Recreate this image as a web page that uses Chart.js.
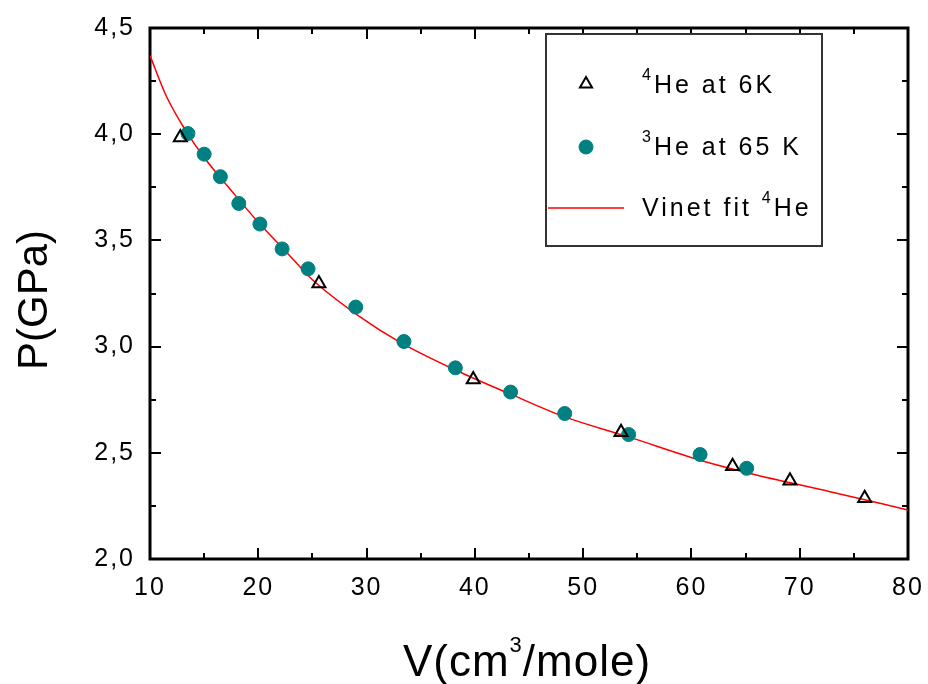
<!DOCTYPE html>
<html>
<head>
<meta charset="utf-8">
<script src="https://cdn.jsdelivr.net/npm/chart.js@4.4.1/dist/chart.umd.min.js"></script>
<style>
  html, body { margin: 0; padding: 0; background: #fff; }
  canvas { display: block; }
</style>
</head>
<body>
<canvas id="eos" width="928" height="684"></canvas>
<script>
// 4He at 6 K (open triangles)
const he4V = [12.8, 25.6, 39.85, 53.5, 63.8, 69.1, 76.0];
const he4P = [3.984, 3.297, 2.845, 2.597, 2.437, 2.368, 2.286];

// 3He at 65 K (teal dots)
const he3V = [13.5, 15.0, 16.5, 18.2, 20.15, 22.2, 24.6, 29.0, 33.45, 38.2, 43.3, 48.3, 54.2, 60.8, 65.1];
const he3P = [4.003, 3.906, 3.80, 3.674, 3.577, 3.46, 3.366, 3.186, 3.024, 2.90, 2.786, 2.685, 2.586, 2.492, 2.427];

// Vinet fit curve
const fitV = [10, 11.5, 13.2, 15, 17.5, 20, 22.5, 25, 29.4, 33.1, 38.2, 43.3, 48.3, 54.2, 60.8, 65.4, 72.8, 80];
const fitP = [4.37, 4.18, 4.025, 3.89, 3.735, 3.585, 3.45, 3.315, 3.14, 3.02, 2.89, 2.776, 2.669, 2.575, 2.465, 2.403, 2.317, 2.231];

// axis ticks
const xTicks = [10, 20, 30, 40, 50, 60, 70, 80];
const yTicks = [2.0, 2.5, 3.0, 3.5, 4.0, 4.5];

const FONT = '"Liberation Sans", Arial, sans-serif';
const TEAL = '#008080';
const RED = '#ff0000';

const pairs = (xs, ys) => xs.map((x, i) => ({ x: x, y: ys[i] }));

// ----------------------------------------------------------------------------
// frame with inward ticks on all four sides
// ----------------------------------------------------------------------------
const framePlugin = {
  id: 'frame',
  beforeDraw(chart) {
    chart.ctx.letterSpacing = '2px';
  },
  beforeDatasetsDraw(chart) {
    const { ctx, chartArea: a, scales } = chart;
    const xs = scales.x, ys = scales.y;
    ctx.save();
    ctx.letterSpacing = '0px';
    ctx.strokeStyle = '#000';
    ctx.lineWidth = 2;
    ctx.beginPath();
    for (let v = xTicks[0]; v <= xTicks[xTicks.length - 1]; v += 5) {
      const px = Math.round(xs.getPixelForValue(v));
      const len = (v % 10 === 0) ? 11 : 6;
      ctx.moveTo(px, a.bottom); ctx.lineTo(px, a.bottom - len);
      ctx.moveTo(px, a.top); ctx.lineTo(px, a.top + len);
    }
    for (let i = 0; i <= 10; i++) {
      const v = 2 + i * 0.25;
      const py = Math.round(ys.getPixelForValue(v));
      const len = (i % 2 === 0) ? 11 : 6;
      ctx.moveTo(a.left, py); ctx.lineTo(a.left + len, py);
      ctx.moveTo(a.right, py); ctx.lineTo(a.right - len, py);
    }
    ctx.stroke();
    ctx.lineWidth = 3;
    ctx.strokeRect(a.left, a.top, a.right - a.left, a.bottom - a.top);
    ctx.restore();
  }
};

// draw text runs with superscripts
function drawRuns(ctx, runs, x, y, spacing) {
  let cx = x;
  runs.forEach(r => {
    ctx.font = r.size + 'px ' + FONT;
    ctx.letterSpacing = spacing + 'px';
    ctx.fillText(r.t, cx, y - (r.rise || 0));
    cx += ctx.measureText(r.t).width;
  });
  return cx;
}
function runsWidth(ctx, runs, spacing) {
  let w = 0;
  runs.forEach(r => {
    ctx.font = r.size + 'px ' + FONT;
    ctx.letterSpacing = spacing + 'px';
    w += ctx.measureText(r.t).width;
  });
  return w;
}

// ----------------------------------------------------------------------------
// legend box and axis titles
// ----------------------------------------------------------------------------
const decorPlugin = {
  id: 'decor',
  afterDraw(chart) {
    const ctx = chart.ctx;
    ctx.save();
    ctx.fillStyle = '#000';
    ctx.textAlign = 'left';
    ctx.textBaseline = 'alphabetic';

    // legend
    ctx.fillStyle = '#fff';
    ctx.fillRect(546, 34, 276, 212);
    ctx.strokeStyle = '#333';
    ctx.lineWidth = 2;
    ctx.strokeRect(546, 34, 276, 212);

    ctx.strokeStyle = '#000';
    ctx.fillStyle = 'rgba(0,0,0,0)';
    ctx.lineWidth = 2;
    Chart.helpers.drawPoint(ctx, { pointStyle: 'triangle', radius: 7, rotation: 0, borderWidth: 2 }, 586, 84);
    ctx.fillStyle = TEAL;
    ctx.strokeStyle = TEAL;
    ctx.lineWidth = 1;
    Chart.helpers.drawPoint(ctx, { pointStyle: 'circle', radius: 7, rotation: 0, borderWidth: 1 }, 586, 147);
    ctx.strokeStyle = RED;
    ctx.lineWidth = 1.5;
    ctx.beginPath();
    ctx.moveTo(548, 208); ctx.lineTo(624, 208);
    ctx.stroke();

    ctx.fillStyle = '#000';
    drawRuns(ctx, [{ t: '4', size: 16, rise: 13 }, { t: 'He at 6K', size: 25 }], 642, 93, 3);
    drawRuns(ctx, [{ t: '3', size: 16, rise: 13 }, { t: 'He at 65 K', size: 25 }], 642, 155, 3);
    drawRuns(ctx, [{ t: 'Vinet fit ', size: 25 }, { t: '4', size: 16, rise: 13 }, { t: 'He', size: 25 }], 642, 216, 3);

    // x title
    const xRuns = [{ t: 'V(cm', size: 44 }, { t: '3', size: 22, rise: 24 }, { t: '/mole)', size: 44 }];
    const w = runsWidth(ctx, xRuns, 1);
    drawRuns(ctx, xRuns, 527 - w / 2, 676, 1);

    // y title
    ctx.translate(47, 300);
    ctx.rotate(-Math.PI / 2);
    ctx.font = '42px ' + FONT;
    ctx.letterSpacing = '0px';
    ctx.textAlign = 'center';
    ctx.fillText('P(GPa)', 0, 0);
    ctx.restore();
  }
};

const ctx = document.getElementById('eos').getContext('2d');
new Chart(ctx, {
  type: 'scatter',
  data: {
    datasets: [
      {
        label: 'Vinet fit 4He',
        data: pairs(fitV, fitP),
        showLine: true,
        borderColor: RED,
        borderWidth: 1.5,
        pointRadius: 0,
        cubicInterpolationMode: 'monotone',
        order: 3
      },
      {
        label: '3He at 65 K',
        data: pairs(he3V, he3P),
        pointStyle: 'circle',
        pointRadius: 7,
        backgroundColor: TEAL,
        borderColor: TEAL,
        borderWidth: 1,
        order: 2
      },
      {
        label: '4He at 6K',
        data: pairs(he4V, he4P),
        pointStyle: 'triangle',
        pointRadius: 7.5,
        backgroundColor: 'rgba(0,0,0,0)',
        borderColor: '#000',
        borderWidth: 2,
        order: 1
      }
    ]
  },
  options: {
    responsive: false,
    animation: false,
    devicePixelRatio: 1,
    layout: { padding: { top: 28, right: 20, left: 0, bottom: 0 } },
    plugins: {
      legend: { display: false },
      tooltip: { enabled: false }
    },
    scales: {
      x: {
        type: 'linear',
        min: 10,
        max: 80,
        afterBuildTicks: s => { s.ticks = xTicks.map(v => ({ value: v })); },
        afterFit: s => { s.height = 125; s.paddingLeft = 0; s.paddingRight = 0; },
        grid: { display: false, drawTicks: false },
        border: { display: false },
        ticks: {
          padding: 14,
          color: '#000',
          font: { family: FONT, size: 25 },
          callback: v => String(v)
        }
      },
      y: {
        type: 'linear',
        min: 2,
        max: 4.5,
        afterBuildTicks: s => { s.ticks = yTicks.map(v => ({ value: v })); },
        afterFit: s => { s.width = 150; s.paddingTop = 0; s.paddingBottom = 0; },
        grid: { display: false, drawTicks: false },
        border: { display: false },
        ticks: {
          padding: 15,
          color: '#000',
          font: { family: FONT, size: 25 },
          callback: v => v.toFixed(1).replace('.', ',')
        }
      }
    }
  },
  plugins: [framePlugin, decorPlugin]
});
</script>
</body>
</html>
